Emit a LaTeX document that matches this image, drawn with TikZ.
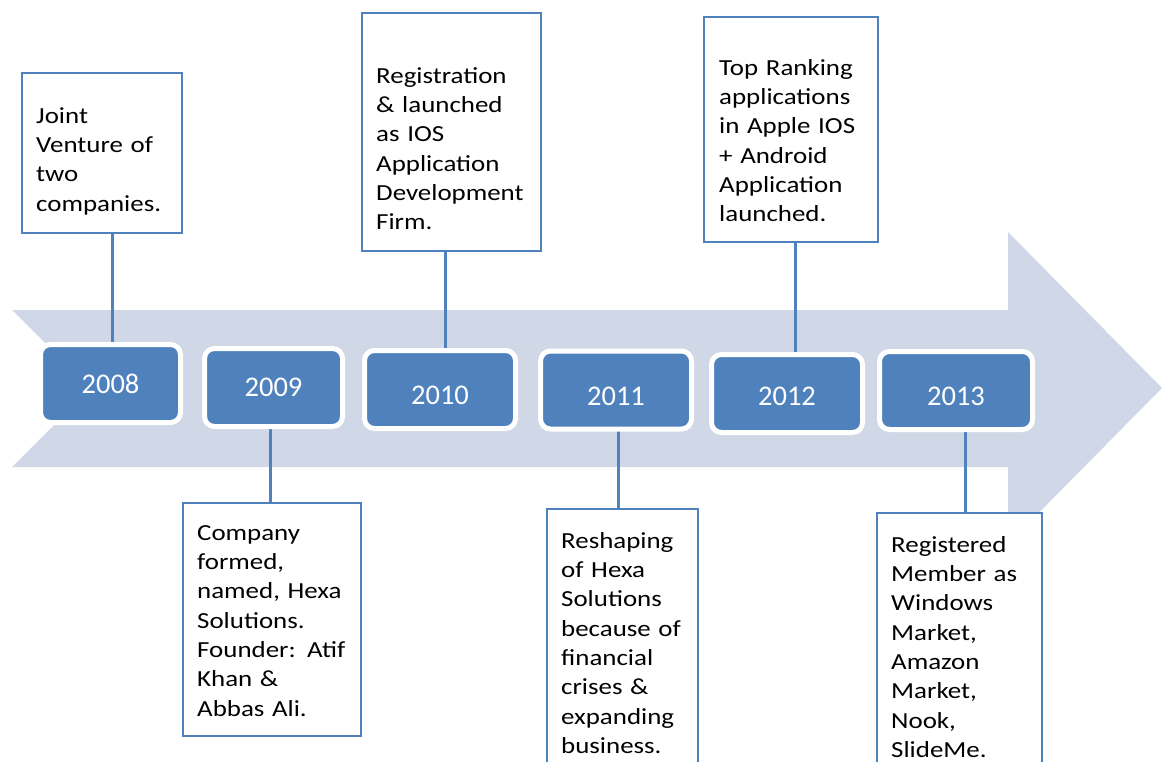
\documentclass[tikz,border=0pt]{standalone}
\usepackage{fontspec}
\setmainfont{Carlito}
\newfontfamily\notefont{Carlito}[FakeStretch=1.17]
\usetikzlibrary{positioning,backgrounds}

\definecolor{yearblue}{HTML}{4F81BD}
\definecolor{bandgrey}{HTML}{D0D8E8}

\tikzset{
    year/.style={draw=white, line width=5pt, fill=yearblue, rounded corners=10pt,
        text=white, outer sep=0pt, minimum width=151, minimum height=78,
        text depth=0pt, font=\fontsize{28.5}{34}\selectfont},
    card/.style={draw=yearblue, line width=1.6pt, fill=white, anchor=north west,
        inner sep=0pt, outer sep=0pt},
    note/.style={anchor=north west, inner sep=0pt, text width=190pt, align=left,
        font=\notefont\fontsize{23}{29.3}\selectfont},
    link/.style={draw=yearblue, line width=3pt}
}

\begin{document}
\begin{tikzpicture}[x=1pt, y=-1pt]
    \useasboundingbox (0,0) rectangle (1162,762);
    \clip (0,0) rectangle (1162,762);

    % Year boxes on the band
    \node[year, minimum width=140] (y2008) at (110.5,383.5) {2008};
    \node[year, minimum width=138] (y2009) at (273.5,387.5) {2009};
    \node[year, text height=30pt] (y2010) at (440,389.5) {2010};
    \node[year, text height=30pt] (y2011) at (616,390) {2011};
    \node[year, text height=23pt] (y2012) at (787,393.5) {2012};
    \node[year, text height=30pt, minimum width=153] (y2013) at (956,390.5) {2013};

    % Cards above the band
    \node[card, minimum width=160, minimum height=160] (c2008) at (22,73) {};
    \node[card, minimum width=179, minimum height=238] (c2010) at (362,13) {};
    \node[card, minimum width=174, minimum height=225] (c2012) at (704,17) {};

    % Cards below the band
    \node[card, minimum width=178, minimum height=233] (c2009) at (183,503) {};
    \node[card, minimum width=151, minimum height=270] (c2011) at (547,509) {};
    \node[card, minimum width=165, minimum height=270] (c2013) at (877,513) {};

    % Card texts
    \node[note] (t2008) at (36,102.5) {\strut Joint\\ Venture of\\ two\\ companies.};
    \node[note] (t2010) at (376,62.5) {\strut Registration\\ \& launched\\ as IOS\\ Application\\ Development\\ Firm.};
    \node[note] (t2012) at (719,54.5) {\strut Top Ranking\\ applications\\ in Apple IOS\\ + Android\\ Application\\ launched.};
    \node[note] (t2009) at (197,519.5) {\strut Company\\ formed,\\ named, Hexa\\ Solutions.\\ Founder: Atif\\ Khan \&\\ Abbas Ali.};
    \node[note] (t2011) at (561,527.5) {\strut Reshaping\\ of Hexa\\ Solutions\\ because of\\ financial\\ crises \&\\ expanding\\ business.};
    \node[note] (t2013) at (891,531.5) {\strut Registered\\ Member as\\ Windows\\ Market,\\ Amazon\\ Market,\\ Nook,\\ SlideMe.};

    \begin{scope}[on background layer]
        \fill[white] (0,0) rectangle (1162,762);

        % Band arrow behind everything
        \fill[bandgrey] (12,310) -- (1008,310) -- (1008,232) -- (1162,388)
            -- (1008,544) -- (1008,467) -- (12,467) -- (91,388.5) -- cycle;

        % Stems from cards to years
        \foreach \yr/\x in {2008/112,2009/270,2010/445,2011/618,2012/795,2013/965} {
            \draw[link] (c\yr.center -| \x,0) -- (y\yr.center -| \x,0);
        }
    \end{scope}
\end{tikzpicture}
\end{document}
